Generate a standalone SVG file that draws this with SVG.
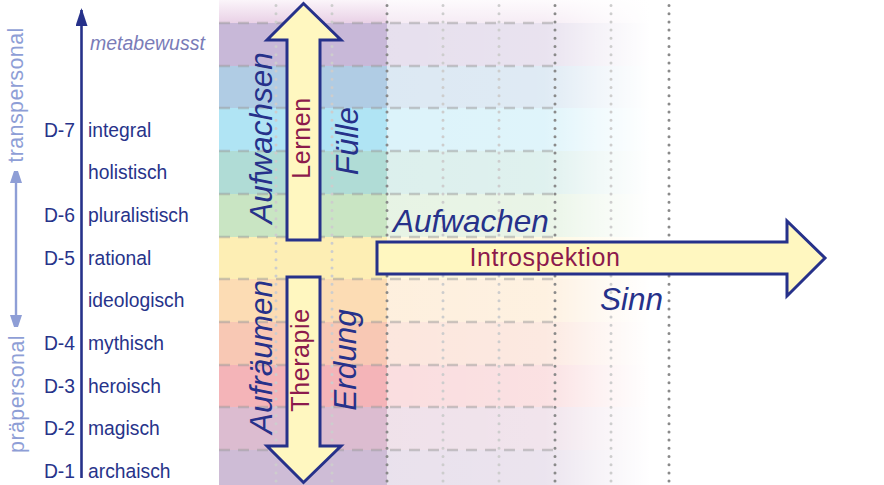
<svg xmlns="http://www.w3.org/2000/svg" width="884" height="485" viewBox="0 0 884 485">
<defs>
<linearGradient id="fade" gradientUnits="userSpaceOnUse" x1="387" y1="0" x2="650" y2="0">
<stop offset="0" stop-color="#fff" stop-opacity="0.56"/>
<stop offset="0.6" stop-color="#fff" stop-opacity="0.6"/>
<stop offset="0.8" stop-color="#fff" stop-opacity="0.82"/>
<stop offset="1" stop-color="#fff" stop-opacity="1"/>
</linearGradient>
<linearGradient id="topband" x1="0" y1="0" x2="0" y2="1">
<stop offset="0" stop-color="#fbf5fa"/>
<stop offset="1" stop-color="#e9d1e6"/>
</linearGradient>
<marker id="ah" viewBox="0 0 12 18" refX="11" refY="6" markerWidth="12" markerHeight="18" markerUnits="userSpaceOnUse" orient="auto-start-reverse">
<path d="M0,0 L18,6 L0,12 Z" fill="#8e9ed6"/>
</marker>
<marker id="axhead" viewBox="0 0 18 12" refX="16" refY="6" markerWidth="18" markerHeight="12" markerUnits="userSpaceOnUse" orient="auto">
<path d="M0,0 L18,6 L0,12 Z" fill="#26318a"/>
</marker>
</defs>
<style>
.lbl{font-family:"Liberation Sans",Arial,sans-serif;font-size:19.3px;fill:#27338a}
.big{font-family:"Liberation Sans",Arial,sans-serif;font-size:31.5px;font-style:italic;fill:#26318a}
.red{font-family:"Liberation Sans",Arial,sans-serif;font-size:25px;fill:#8c1a4c;letter-spacing:0.6px}
.side{font-family:"Liberation Sans",Arial,sans-serif;font-size:21.5px;fill:#8e9ed6;letter-spacing:0.4px}
.dashl{stroke:#9a9a9a;stroke-opacity:0.5;stroke-width:2.5;stroke-dasharray:11 8}
.dotd{stroke:#8a8a8a;stroke-width:3;stroke-linecap:round;stroke-dasharray:0 8.2}
.dotl{stroke:#cdcdcd;stroke-width:3;stroke-linecap:round;stroke-dasharray:0 8.2}
.arr{fill:#fff7c0;stroke:#26318a;stroke-width:3;stroke-linejoin:miter}
</style>
<rect width="884" height="485" fill="#fff"/>
<g id="bands">
<rect x="219" y="0" width="431" height="23" fill="url(#topband)"/>
<rect x="219" y="23" width="431" height="43" fill="#c8b8d8"/>
<rect x="219" y="66" width="431" height="42" fill="#b0cce4"/>
<rect x="219" y="108" width="431" height="43" fill="#b0e4f4"/>
<rect x="219" y="151" width="431" height="43" fill="#b0dcd6"/>
<rect x="219" y="194" width="431" height="43" fill="#c9e5c3"/>
<rect x="219" y="237" width="431" height="42" fill="#fdeeb4"/>
<rect x="219" y="279" width="431" height="43" fill="#fcdcb4"/>
<rect x="219" y="322" width="431" height="43" fill="#f8c8b4"/>
<rect x="219" y="365" width="431" height="42" fill="#f4b4b8"/>
<rect x="219" y="407" width="431" height="43" fill="#dcbcd0"/>
<rect x="219" y="450" width="431" height="35" fill="#cebcd6"/>
<rect x="387" y="0" width="264" height="485" fill="url(#fade)"/>
</g>
<g id="grid">
<line class="dashl" x1="219" y1="23" x2="555" y2="23"/>
<line class="dashl" x1="219" y1="66" x2="555" y2="66"/>
<line class="dashl" x1="219" y1="108" x2="555" y2="108"/>
<line class="dashl" x1="219" y1="151" x2="555" y2="151"/>
<line class="dashl" x1="219" y1="194" x2="555" y2="194"/>
<line class="dashl" x1="219" y1="237" x2="555" y2="237"/>
<line class="dashl" x1="219" y1="279" x2="555" y2="279"/>
<line class="dashl" x1="219" y1="322" x2="555" y2="322"/>
<line class="dashl" x1="219" y1="365" x2="555" y2="365"/>
<line class="dashl" x1="219" y1="407" x2="555" y2="407"/>
<line class="dashl" x1="219" y1="450" x2="555" y2="450"/>
<line class="dotl" x1="276" y1="5.5" x2="276" y2="485"/>
<line class="dotl" x1="332" y1="5.5" x2="332" y2="485"/>
<line class="dotl" x1="443" y1="5.5" x2="443" y2="485"/>
<line class="dotl" x1="499" y1="5.5" x2="499" y2="485"/>
<line class="dotl" x1="611" y1="5.5" x2="611" y2="485"/>
<line class="dotd" x1="387" y1="5.5" x2="387" y2="485"/>
<line class="dotd" x1="555" y1="5.5" x2="555" y2="485"/>
<line class="dotd" x1="669" y1="5.5" x2="669" y2="485"/>
</g>
<g id="connectors">
<line x1="81.5" y1="478" x2="81.5" y2="10" stroke="#26318a" stroke-width="2.6" marker-end="url(#axhead)"/>
<line x1="16" y1="172" x2="16" y2="326" stroke="#8e9ed6" stroke-width="2.4" marker-start="url(#ah)" marker-end="url(#ah)"/>
</g>
<g id="side-labels">
<text class="side" transform="translate(23,95) rotate(-90)" text-anchor="middle">transpersonal</text>
<text class="side" transform="translate(24,394) rotate(-90)" text-anchor="middle">präpersonal</text>
</g>
<g id="levels">
<text x="90" y="50" style="font-family:'Liberation Sans',Arial,sans-serif;font-size:19.5px;font-style:italic;fill:#7a7cb8">metabewusst</text>
<g id="d7"><text class="lbl" x="75" y="136.5" text-anchor="end">D-7</text><text class="lbl" x="88" y="136.5">integral</text></g>
<g id="holistisch"><text class="lbl" x="88" y="179">holistisch</text></g>
<g id="d6"><text class="lbl" x="75" y="222" text-anchor="end">D-6</text><text class="lbl" x="88" y="222">pluralistisch</text></g>
<g id="d5"><text class="lbl" x="75" y="264.5" text-anchor="end">D-5</text><text class="lbl" x="88" y="264.5">rational</text></g>
<g id="ideologisch"><text class="lbl" x="88" y="307">ideologisch</text></g>
<g id="d4"><text class="lbl" x="75" y="350" text-anchor="end">D-4</text><text class="lbl" x="88" y="350">mythisch</text></g>
<g id="d3"><text class="lbl" x="75" y="392.5" text-anchor="end">D-3</text><text class="lbl" x="88" y="392.5">heroisch</text></g>
<g id="d2"><text class="lbl" x="75" y="435" text-anchor="end">D-2</text><text class="lbl" x="88" y="435">magisch</text></g>
<g id="d1"><text class="lbl" x="75" y="477.5" text-anchor="end">D-1</text><text class="lbl" x="88" y="477.5">archaisch</text></g>
</g>
<g id="arrow-lernen">
<polygon class="arr" points="287,240 287,40 267,40 303.5,3.5 341,40 320,40 320,240"/>
<text class="red" transform="translate(310,138) rotate(-90)" text-anchor="middle">Lernen</text>
</g>
<g id="arrow-therapie">
<polygon class="arr" points="287,277 320,277 320,446 341,446 303.5,482.5 267,446 287,446"/>
<text class="red" transform="translate(309,360) rotate(-90)" text-anchor="middle">Therapie</text>
</g>
<g id="arrow-introspektion">
<polygon class="arr" points="377,242 787,242 787,221 825,258 787,296 787,274 377,274"/>
<text class="red" x="545" y="266" text-anchor="middle">Introspektion</text>
</g>
<g id="labels">
<text class="big" transform="translate(272,138) rotate(-90)" text-anchor="middle">Aufwachsen</text>
<text class="big" transform="translate(358,141) rotate(-90)" text-anchor="middle">Fülle</text>
<text class="big" transform="translate(272,357) rotate(-90)" text-anchor="middle">Aufräumen</text>
<text class="big" transform="translate(356,360) rotate(-90)" text-anchor="middle">Erdung</text>
<text class="big" x="393" y="232">Aufwachen</text>
<text class="big" x="600" y="310">Sinn</text>
</g>
</svg>
